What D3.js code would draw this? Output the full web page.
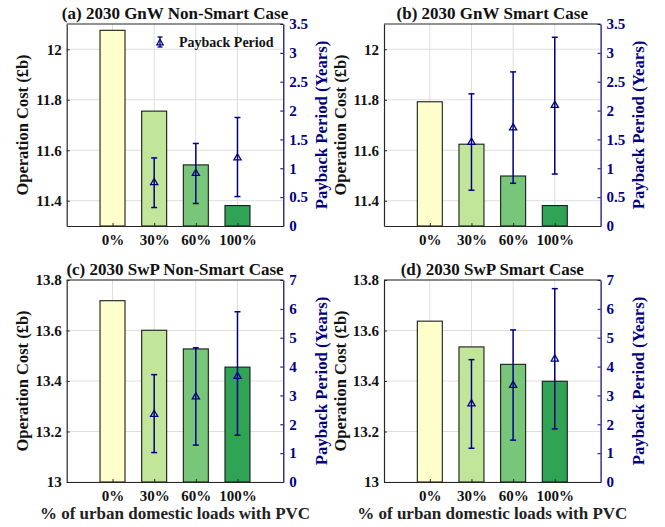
<!DOCTYPE html>
<html>
<head>
<meta charset="utf-8">
<script src="https://cdn.jsdelivr.net/npm/d3@7"></script>
<style>
  html, body { margin: 0; padding: 0; background: #fff; }
  svg text { font-family: "Liberation Serif", "Times New Roman", Times, serif !important; font-weight: bold; }
</style>
</head>
<body>
<svg id="chart" width="665" height="527"></svg>
<script>
// ---------------- data ----------------
const categories = ["0%", "30%", "60%", "100%"];
const titles = ["(a) 2030 GnW Non-Smart Case", "(b) 2030 GnW Smart Case",
                "(c) 2030 SwP Non-Smart Case", "(d) 2030 SwP Smart Case"];

// Operation cost (£b) per category
const costA = [12.075, 11.755, 11.542, 11.381];
const costB = [11.792, 11.624, 11.498, 11.381];
const costC = [13.718, 13.601, 13.527, 13.455];
const costD = [13.637, 13.535, 13.466, 13.399];

// Payback period (years) for 30%, 60%, 100%
const paybackCats = ["30%", "60%", "100%"];
const paybackA = [0.76, 0.92, 1.19];
const paybackA_low = [0.32, 0.39, 0.51];
const paybackA_high = [1.18, 1.43, 1.88];
const paybackB = [1.46, 1.71, 2.10];
const paybackB_low = [0.62, 0.74, 0.90];
const paybackB_high = [2.29, 2.67, 3.27];
const paybackC = [2.36, 2.97, 3.68];
const paybackC_low = [1.02, 1.28, 1.62];
const paybackC_high = [3.72, 4.65, 5.90];
const paybackD = [2.73, 3.37, 4.28];
const paybackD_low = [1.17, 1.45, 1.84];
const paybackD_high = [4.24, 5.27, 6.70];

// axis domains / ticks
const leftDomainGnW = [11.3, 12.1];
const leftTicksGnW = [11.4, 11.6, 11.8, 12];
const leftDomainSwP = [13, 13.8];
const leftTicksSwP = [13, 13.2, 13.4, 13.6, 13.8];
const rightDomainGnW = [0, 3.5];
const rightTicksGnW = [0, 0.5, 1, 1.5, 2, 2.5, 3, 3.5];
const rightDomainSwP = [0, 7];
const rightTicksSwP = [0, 1, 2, 3, 4, 5, 6, 7];

const barColors = ["#ffffcc", "#c2e699", "#78c679", "#31a354"];
const NAVY = "#000080";
const AXIS = "#262626";
const FONT = '"Liberation Serif", "Times New Roman", Times, serif';

const panels = [
  {title: titles[0], cost: costA, pb: paybackA, lo: paybackA_low, hi: paybackA_high,
   ld: leftDomainGnW, lt: leftTicksGnW, rd: rightDomainGnW, rt: rightTicksGnW, x0: 66.7, y0: 24, legend: true, xlabel: false},
  {title: titles[1], cost: costB, pb: paybackB, lo: paybackB_low, hi: paybackB_high,
   ld: leftDomainGnW, lt: leftTicksGnW, rd: rightDomainGnW, rt: rightTicksGnW, x0: 384, y0: 24, legend: false, xlabel: false},
  {title: titles[2], cost: costC, pb: paybackC, lo: paybackC_low, hi: paybackC_high,
   ld: leftDomainSwP, lt: leftTicksSwP, rd: rightDomainSwP, rt: rightTicksSwP, x0: 66.7, y0: 280, legend: false, xlabel: true},
  {title: titles[3], cost: costD, pb: paybackD, lo: paybackD_low, hi: paybackD_high,
   ld: leftDomainSwP, lt: leftTicksSwP, rd: rightDomainSwP, rt: rightTicksSwP, x0: 384, y0: 280, legend: false, xlabel: true}
];

const W = 216.6, H = 202;
const svg = d3.select("#chart");
const fmt = d => String(+d.toFixed(1));

panels.forEach(p => {
  const g = svg.append("g").attr("transform", `translate(${p.x0},${p.y0})`);
  const x = d3.scaleLinear().domain([-0.1, 5.1]).range([0, W]);
  const yL = d3.scaleLinear().domain(p.ld).range([H, 0]);
  const yR = d3.scaleLinear().domain(p.rd).range([H, 0]);
  const pos = categories.map((c, i) => i + 1);

  // grid
  g.append("g").selectAll("line.h").data(p.lt).join("line")
    .attr("x1", 0).attr("x2", W).attr("y1", d => yL(d)).attr("y2", d => yL(d))
    .attr("stroke", "#dedede").attr("stroke-width", 1);
  g.append("g").selectAll("line.v").data(pos).join("line")
    .attr("x1", d => x(d)).attr("x2", d => x(d)).attr("y1", 0).attr("y2", H)
    .attr("stroke", "#dedede").attr("stroke-width", 1);

  // bars
  const bw = x(0.6) - x(0);
  g.append("g").selectAll("rect").data(p.cost).join("rect")
    .attr("x", (d, i) => x(pos[i]) - bw / 2)
    .attr("width", bw)
    .attr("y", d => yL(d))
    .attr("height", d => yL(p.ld[0]) - yL(d))
    .attr("fill", (d, i) => barColors[i])
    .attr("stroke", "#1a1a1a").attr("stroke-width", 1.1);

  // axes
  const styleTicks = (sel, color) => sel.selectAll(".tick text")
    .attr("font-size", 15).attr("fill", color).attr("font-family", FONT).attr("font-weight", "bold");

  const axL = d3.axisLeft(yL).tickValues(p.lt).tickFormat(fmt).tickSizeInner(-3).tickSizeOuter(0).tickPadding(5);
  const gl = g.append("g").call(axL).attr("font-family", FONT);
  gl.select(".domain").attr("stroke", AXIS).attr("stroke-width", 1.2);
  gl.selectAll(".tick line").attr("stroke", AXIS);
  styleTicks(gl, "#111");

  const axR = d3.axisRight(yR).tickValues(p.rt).tickFormat(fmt).tickSizeInner(-3).tickSizeOuter(0).tickPadding(6);
  const gr = g.append("g").attr("transform", `translate(${W},0)`).call(axR).attr("font-family", FONT);
  gr.select(".domain").attr("stroke", NAVY).attr("stroke-width", 1.2);
  gr.selectAll(".tick line").attr("stroke", NAVY);
  styleTicks(gr, NAVY);

  const axB = d3.axisBottom(x).tickValues(pos).tickFormat(d => categories[d - 1]).tickSizeInner(-3).tickSizeOuter(0).tickPadding(8);
  const gb = g.append("g").attr("transform", `translate(0,${H})`).call(axB).attr("font-family", FONT);
  gb.select(".domain").attr("stroke", AXIS).attr("stroke-width", 1.2);
  gb.selectAll(".tick line").attr("stroke", AXIS);
  styleTicks(gb, "#111");

  // top box line
  g.append("line").attr("x1", 0).attr("x2", W).attr("y1", 0).attr("y2", 0)
    .attr("stroke", AXIS).attr("stroke-width", 1.2);

  // error bars
  const eg = g.append("g");
  const pbPos = paybackCats.map(c => categories.indexOf(c) + 1);
  const cap = 3;
  p.pb.forEach((v, i) => {
    const cx = x(pbPos[i]);
    eg.append("line").attr("x1", cx).attr("x2", cx).attr("y1", yR(p.lo[i])).attr("y2", yR(p.hi[i]))
      .attr("stroke", NAVY).attr("stroke-width", 1.5);
    [p.lo[i], p.hi[i]].forEach(e => {
      eg.append("line").attr("x1", cx - cap).attr("x2", cx + cap).attr("y1", yR(e)).attr("y2", yR(e))
        .attr("stroke", NAVY).attr("stroke-width", 1.5);
    });
    eg.append("path").attr("d", d3.symbol().type(d3.symbolTriangle).size(22)())
      .attr("transform", `translate(${cx},${yR(v) + 0.5})`)
      .attr("fill", "none").attr("stroke", NAVY).attr("stroke-width", 1.3);
  });

  const txt = (sel) => sel.attr("font-family", FONT).attr("font-weight", "bold");

  // title
  txt(g.append("text")).attr("x", W / 2).attr("y", -5).attr("text-anchor", "middle")
    .attr("font-size", 17).attr("fill", "#111").text(p.title);

  // axis labels
  txt(g.append("text")).attr("transform", `translate(${-44},${H / 2}) rotate(-90)`)
    .attr("text-anchor", "middle").attr("dy", "0.35em").attr("font-size", 16.5).attr("fill", "#111")
    .text("Operation Cost (£b)");
  txt(g.append("text")).attr("transform", `translate(${W + 38},${H / 2}) rotate(-90)`)
    .attr("text-anchor", "middle").attr("dy", "0.35em").attr("font-size", 16.8).attr("fill", NAVY)
    .text("Payback Period (Years)");

  if (p.xlabel) {
    txt(g.append("text")).attr("x", W / 2).attr("y", H + 37).attr("text-anchor", "middle")
      .attr("font-size", 17).attr("fill", "#222").text("% of urban domestic loads with PVC");
  }

  if (p.legend) {
    const lg = g.append("g").attr("transform", `translate(${160 - p.x0},${42 - p.y0})`);
    lg.append("line").attr("x1", 0).attr("x2", 0).attr("y1", -5).attr("y2", 5).attr("stroke", NAVY).attr("stroke-width", 1.3);
    [-5, 5].forEach(e => lg.append("line").attr("x1", -2.5).attr("x2", 2.5).attr("y1", e).attr("y2", e).attr("stroke", NAVY).attr("stroke-width", 1.3));
    lg.append("path").attr("d", d3.symbol().type(d3.symbolTriangle).size(18)())
      .attr("transform", "translate(0,1)").attr("fill", "none").attr("stroke", NAVY).attr("stroke-width", 1.2);
    txt(lg.append("text")).attr("x", 19).attr("y", 5).attr("font-size", 14).attr("fill", "#111").text("Payback Period");
  }
});
</script>
</body>
</html>
